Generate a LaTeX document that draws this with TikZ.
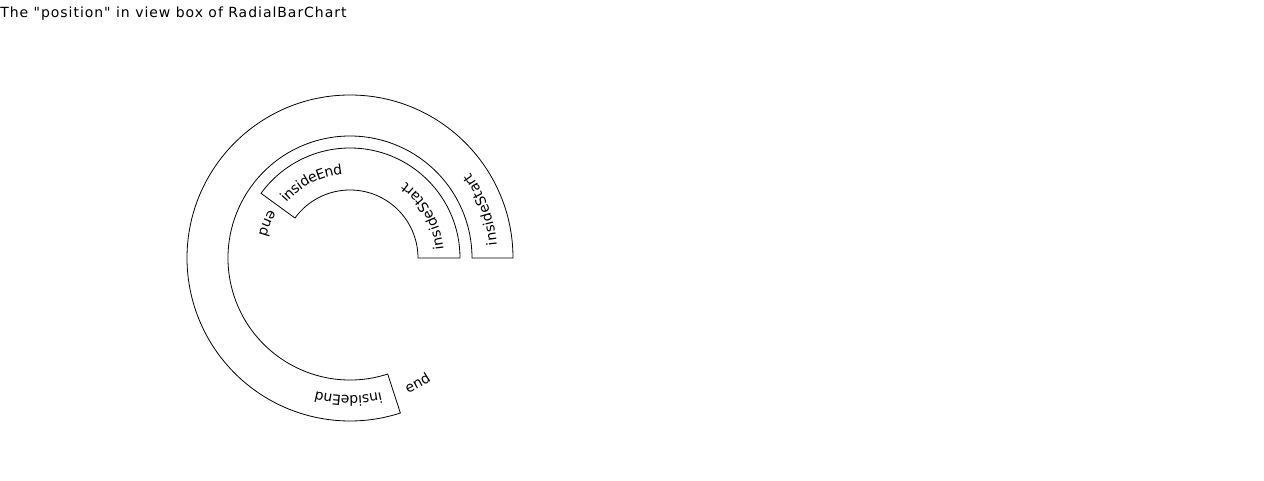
\documentclass[tikz,border=0pt]{standalone}
\usepackage{fontspec}
\setmainfont{DejaVu Sans}
\newfontfamily\titlefont[LetterSpace=6.9]{DejaVu Sans}
\usetikzlibrary{decorations.text,calc}
\begin{document}
\fontsize{10.5pt}{12pt}\selectfont
\begin{tikzpicture}[x=0.75pt,y=0.75pt,
  bar/.style={draw=black,line width=0.6pt,fill=none},
  lbl/.style={decorate,decoration={text along path,text align=left,raise=-3.7pt,text={#1}}}]
\useasboundingbox (0,0) rectangle (1264,481);
\coordinate (C) at (350,223);
\node[anchor=base west,inner sep=0] (title) at (0,463.7) {\titlefont The "position" in view box of RadialBarChart};
% outer bar: 0 to 288 deg, r 122..163
\draw[bar] ($(C)+(0:163)$) arc[start angle=0,end angle=288,radius=163]
  -- ($(C)+(288:122)$) arc[start angle=288,end angle=0,radius=122] -- cycle;
% inner bar: 0 to 144 deg, r 68..110
\draw[bar] ($(C)+(0:110)$) arc[start angle=0,end angle=144,radius=110]
  -- ($(C)+(144:68)$) arc[start angle=144,end angle=0,radius=68] -- cycle;
% labels inner bar (mid radius 89)
\path[lbl={insideStart}] ($(C)+(5:89)$) arc[start angle=5,end angle=130,radius=89];
\path[lbl={insideEnd}] ($(C)+(139:89)$) arc[start angle=139,end angle=20,radius=89];
\path[lbl={end}] ($(C)+(149:89)$) arc[start angle=149,end angle=260,radius=89];
% labels outer bar (mid radius 142.5)
\path[lbl={insideStart}] ($(C)+(5:142.5)$) arc[start angle=5,end angle=110,radius=142.5];
\path[lbl={insideEnd}] ($(C)+(283:142.5)$) arc[start angle=283,end angle=200,radius=142.5];
\path[lbl={end}] ($(C)+(293:142.5)$) arc[start angle=293,end angle=350,radius=142.5];
\end{tikzpicture}
\end{document}
